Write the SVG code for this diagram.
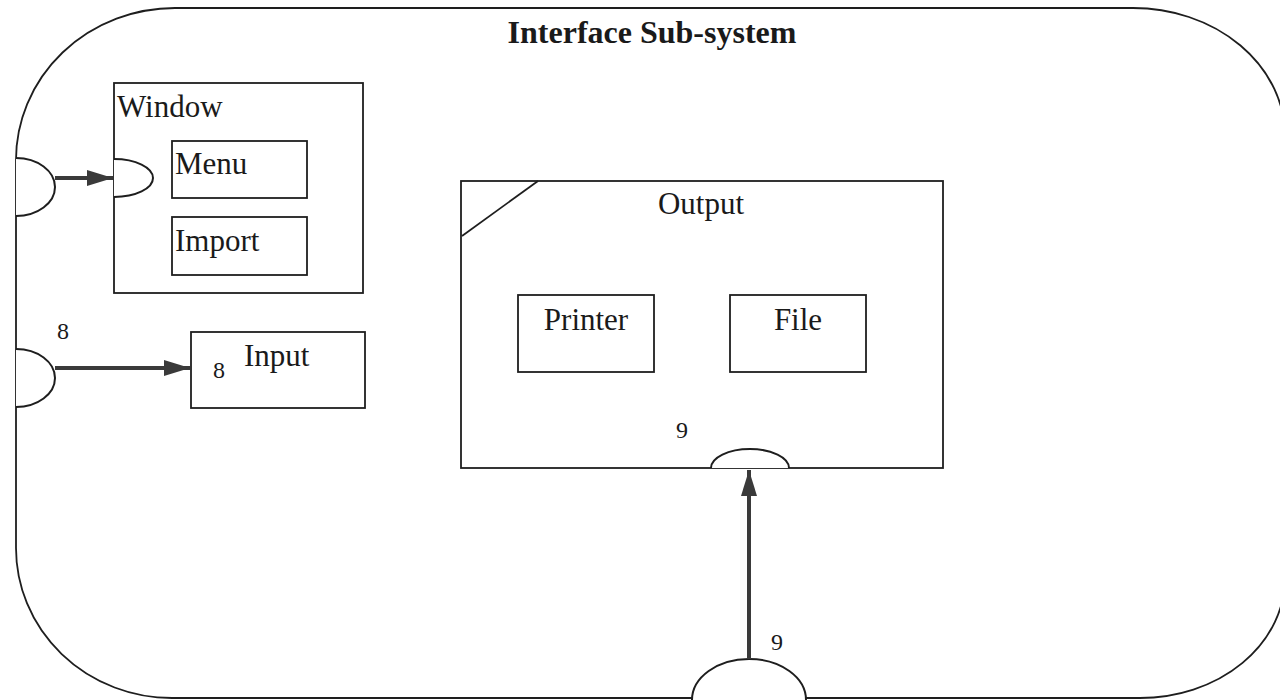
<svg xmlns="http://www.w3.org/2000/svg" width="1280" height="700" viewBox="0 0 1280 700">
  <defs>
    <style>
      .box { fill: none; stroke: #1e1e1e; stroke-width: 1.8; }
      .port { fill: #ffffff; stroke: #1e1e1e; stroke-width: 2; }
      .flow { fill: none; stroke: #3a3a3a; stroke-width: 4; }
      .lbl { font-family: "Liberation Serif", "Times New Roman", serif; font-size: 31px; fill: #1a1a1a; }
      .num { font-family: "Liberation Serif", "Times New Roman", serif; font-size: 24px; fill: #1a1a1a; }
      .title { font-family: "Liberation Serif", "Times New Roman", serif; font-size: 32px; font-weight: bold; fill: #1a1a1a; }
    </style>
    <marker id="head" viewBox="0 0 10 10" preserveAspectRatio="none" refX="10" refY="5" markerWidth="6.5" markerHeight="4" markerUnits="strokeWidth" orient="auto">
      <path d="M0,0 L10,5 L0,10 Z" fill="#3a3a3a"/>
    </marker>
  </defs>
  <rect width="1280" height="700" fill="#ffffff"/>

  <!-- Interface sub-system boundary -->
  <g id="interface-subsystem">
    <path class="box" d="M175,8 H1133 A152,128 0 0 1 1285,136 V578 A145,120 0 0 1 1140,698 H172 A156,150 0 0 1 16,548 V160 A159,152 0 0 1 175,8 Z"/>
    <text class="title" x="652" y="43" text-anchor="middle">Interface Sub-system</text>
  </g>

  <!-- Window with its sub-components -->
  <g id="window">
    <rect class="box" x="114" y="83" width="249" height="210"/>
    <text class="lbl" x="117" y="117">Window</text>
    <path class="port" d="M114,159 A39,19 0 0 1 114,197"/>
  </g>
  <g id="menu">
    <rect class="box" x="172" y="141" width="135" height="57"/>
    <text class="lbl" x="175" y="174">Menu</text>
  </g>
  <g id="import">
    <rect class="box" x="172" y="217" width="135" height="58"/>
    <text class="lbl" x="175" y="251">Import</text>
  </g>

  <!-- Input -->
  <g id="input">
    <rect class="box" x="191" y="332" width="174" height="76"/>
    <text class="num" x="213" y="378">8</text>
    <text class="lbl" x="244" y="366">Input</text>
  </g>

  <!-- Output with its devices -->
  <g id="output">
    <rect class="box" x="461" y="181" width="482" height="287"/>
    <line class="box" x1="462" y1="236" x2="538" y2="181"/>
    <text class="lbl" x="701" y="214" text-anchor="middle">Output</text>
    <text class="num" x="682" y="438" text-anchor="middle">9</text>
    <path class="port" d="M711,468 A39,19 0 0 1 789,468"/>
  </g>
  <g id="printer">
    <rect class="box" x="518" y="295" width="136" height="77"/>
    <text class="lbl" x="586" y="330" text-anchor="middle">Printer</text>
  </g>
  <g id="file">
    <rect class="box" x="730" y="295" width="136" height="77"/>
    <text class="lbl" x="798" y="330" text-anchor="middle">File</text>
  </g>

  <!-- External interface ports on the boundary -->
  <g id="port-window">
    <path class="port" d="M16,158 A39,29 0 0 1 16,216"/>
  </g>
  <g id="port-input">
    <path class="port" d="M16,349 A39,29 0 0 1 16,407"/>
    <text class="num" x="63" y="339" text-anchor="middle">8</text>
  </g>
  <g id="port-output">
    <path class="port" d="M692,700 A57,41 0 0 1 806,700"/>
    <text class="num" x="777" y="650" text-anchor="middle">9</text>
  </g>

  <!-- Connectors -->
  <g id="connectors">
    <line class="flow" x1="55" y1="178" x2="113" y2="178" marker-end="url(#head)"/>
    <line class="flow" x1="55" y1="368" x2="190" y2="368" marker-end="url(#head)"/>
    <line class="flow" x1="749" y1="659" x2="749" y2="470" marker-end="url(#head)"/>
  </g>
</svg>
